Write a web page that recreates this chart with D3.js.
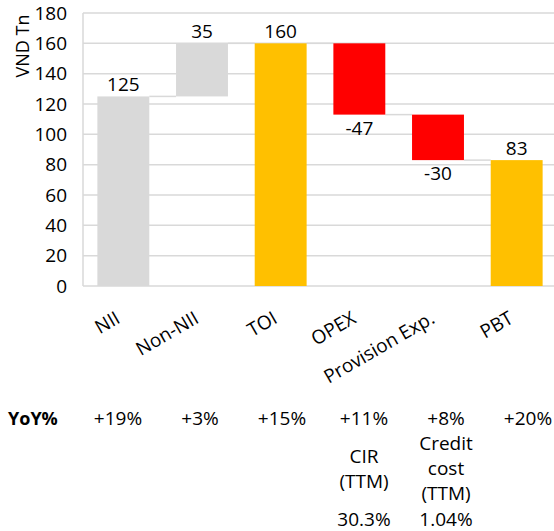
<!DOCTYPE html>
<html>
<head>
<meta charset="utf-8">
<script src="https://cdn.jsdelivr.net/npm/d3@7"></script>
<style>
  html, body { margin: 0; padding: 0; background: #fff; }
  svg { display: block; font-family: "Open Sans", "Noto Sans", sans-serif; }
</style>
</head>
<body>
<div id="chart"></div>
<script>
// waterfall data
const categories = ['NII', 'Non-NII', 'TOI', 'OPEX', 'Provision Exp.', 'PBT'];
const values = [125, 35, 160, -47, -30, 83];
const isTotal = [true, false, true, false, false, true];
const barKind = ['base', 'base', 'total', 'cost', 'cost', 'total'];
const yTicks = [0, 20, 40, 60, 80, 100, 120, 140, 160, 180];
const yoy = ['+19%', '+3%', '+15%', '+11%', '+8%', '+20%'];
const cirNote = ['CIR', '(TTM)'];
const cirValue = '30.3%';
const creditNote = ['Credit', 'cost', '(TTM)'];
const creditValue = '1.04%';

const width = 554, height = 531;
const colors = { base: '#d9d9d9', total: '#ffc000', cost: '#ff0000' };
const gridColor = '#d9d9d9';

const svg = d3.select('#chart').append('svg')
  .attr('width', width)
  .attr('height', height);

const x = d3.scaleBand()
  .domain(categories)
  .range([84, 556])
  .paddingInner(0.34)
  .paddingOuter(0.17);

const y = d3.scaleLinear()
  .domain([0, 180])
  .range([286, 13]);

// build running start/end for each step
let running = 0;
const steps = categories.map((c, i) => {
  let start, end;
  if (isTotal[i]) {
    start = 0;
    end = values[i];
  } else {
    start = running;
    end = running + values[i];
  }
  running = end;
  return { cat: c, value: values[i], start, end, kind: barKind[i] };
});

// gridlines
svg.append('g')
  .selectAll('line')
  .data(yTicks)
  .enter().append('line')
  .attr('x1', x.range()[0] - 1)
  .attr('x2', width)
  .attr('y1', d => y(d))
  .attr('y2', d => y(d))
  .attr('stroke', gridColor)
  .attr('stroke-width', 1.5);

svg.append('line')
  .attr('x1', x.range()[0] - 1)
  .attr('x2', x.range()[0] - 1)
  .attr('y1', y(180))
  .attr('y2', y(0))
  .attr('stroke', gridColor)
  .attr('stroke-width', 1.5);

// y tick labels
svg.append('g')
  .selectAll('text')
  .data(yTicks)
  .enter().append('text')
  .attr('x', 67)
  .attr('y', d => y(d))
  .attr('dy', '0.35em')
  .attr('text-anchor', 'end')
  .style('font-size', '19px')
  .text(d => d);

svg.append('text')
  .attr('transform', 'translate(29,46) rotate(-90)')
  .attr('text-anchor', 'middle')
  .style('font-size', '18px')
  .text('VND Tn');

// connectors
svg.append('g')
  .selectAll('line')
  .data(steps.slice(0, -1))
  .enter().append('line')
  .attr('x1', d => x(d.cat) + x.bandwidth())
  .attr('x2', (d, i) => x(categories[i + 1]))
  .attr('y1', d => y(d.end))
  .attr('y2', d => y(d.end))
  .attr('stroke', gridColor)
  .attr('stroke-width', 1.5);

// bars
svg.append('g')
  .selectAll('rect')
  .data(steps)
  .enter().append('rect')
  .attr('x', d => x(d.cat))
  .attr('width', x.bandwidth())
  .attr('y', d => y(Math.max(d.start, d.end)))
  .attr('height', d => Math.abs(y(d.start) - y(d.end)))
  .attr('fill', d => colors[d.kind]);

// value labels
svg.append('g')
  .selectAll('text')
  .data(steps)
  .enter().append('text')
  .attr('x', d => x(d.cat) + x.bandwidth() / 2)
  .attr('y', d => d.value < 0 ? y(Math.min(d.start, d.end)) + 20 : y(Math.max(d.start, d.end)) - 5)
  .attr('text-anchor', 'middle')
  .style('font-size', '19px')
  .text(d => d.value);

// category labels
svg.append('g')
  .selectAll('text')
  .data(categories)
  .enter().append('text')
  .attr('transform', d => `translate(${x(d) + x.bandwidth() / 2 - 2},322) rotate(-30)`)
  .attr('text-anchor', 'end')
  .style('font-size', '19px')
  .text(d => d);

// YoY table under the chart
const tableX = d3.scalePoint()
  .domain(categories)
  .range([118, 528]);

svg.append('text')
  .attr('x', 8)
  .attr('y', 425)
  .style('font-size', '18px')
  .style('font-weight', 'bold')
  .text('YoY%');

svg.append('g')
  .selectAll('text')
  .data(yoy)
  .enter().append('text')
  .attr('x', (d, i) => tableX(categories[i]))
  .attr('y', 425)
  .attr('text-anchor', 'middle')
  .style('font-size', '19px')
  .text(d => d);

const cirX = tableX('OPEX');
const creditX = tableX('Provision Exp.');

svg.append('g')
  .selectAll('text')
  .data(cirNote)
  .enter().append('text')
  .attr('x', cirX)
  .attr('y', (d, i) => 463 + i * 25)
  .attr('text-anchor', 'middle')
  .style('font-size', '19px')
  .text(d => d);

svg.append('g')
  .selectAll('text')
  .data(creditNote)
  .enter().append('text')
  .attr('x', creditX)
  .attr('y', (d, i) => 450 + i * 25)
  .attr('text-anchor', 'middle')
  .style('font-size', '19px')
  .text(d => d);

svg.append('text')
  .attr('x', cirX)
  .attr('y', 526)
  .attr('text-anchor', 'middle')
  .style('font-size', '19px')
  .text(cirValue);

svg.append('text')
  .attr('x', creditX)
  .attr('y', 526)
  .attr('text-anchor', 'middle')
  .style('font-size', '19px')
  .text(creditValue);
</script>
</body>
</html>
